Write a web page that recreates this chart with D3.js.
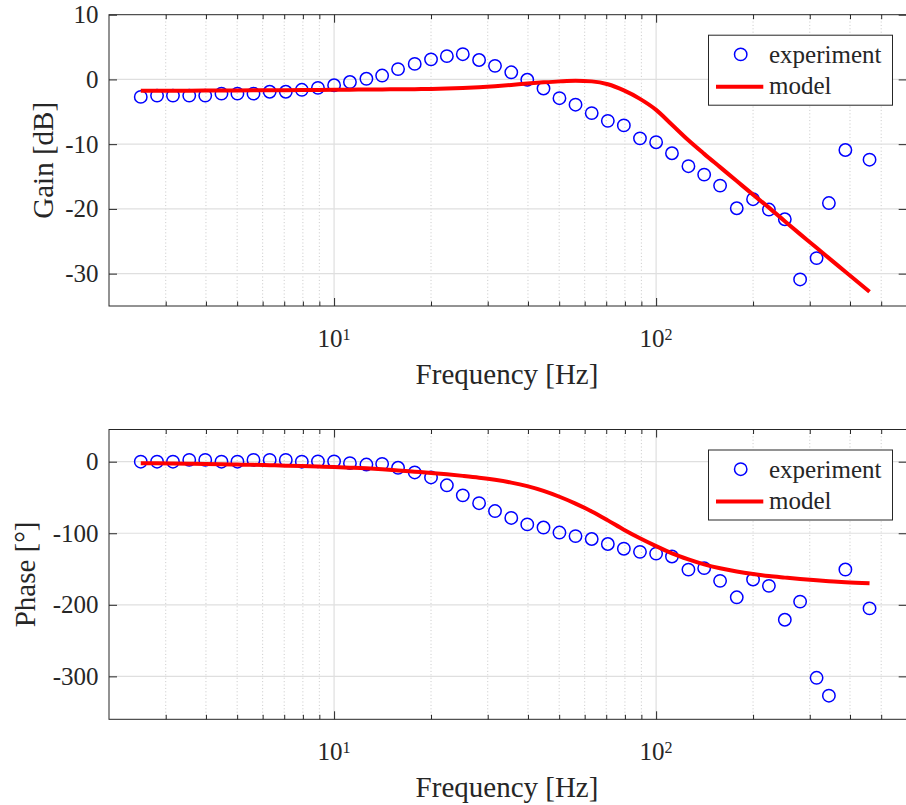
<!doctype html>
<html>
<head>
  <meta charset="utf-8">
  <title>Gain / Phase</title>
  <script src="https://d3js.org/d3.v7.min.js"></script>
  <style>
  body { margin: 0; background: #fff; }
  </style>
</head>
<body>
<div id="vis"></div>
<script>
// measured points (Hz)
var freq = [2.51, 2.82, 3.16, 3.55, 3.98, 4.47, 5.01, 5.62, 6.31, 7.08, 7.94, 8.91,
  10.0, 11.2, 12.6, 14.1, 15.8, 17.8, 20.0, 22.4, 25.1, 28.2, 31.6, 35.5, 39.8, 44.7,
  50.1, 56.2, 63.1, 70.8, 79.4, 89.1, 100, 112, 126, 141, 158, 178, 200, 224, 251,
  280, 315, 344, 387, 460];
var gain = [-2.7, -2.5, -2.5, -2.5, -2.5, -2.2, -2.2, -2.2, -1.9, -1.9, -1.6, -1.3,
  -0.9, -0.4, 0.1, 0.6, 1.6, 2.4, 3.1, 3.6, 3.9, 3.0, 2.1, 1.1, -0.05, -1.4,
  -2.9, -3.9, -5.2, -6.4, -7.1, -9.1, -9.7, -11.4, -13.4, -14.7, -16.4, -19.9, -18.5, -20.1, -21.6,
  -30.9, -27.6, -19.1, -10.9, -12.4];
var phase = [0, 0, 0, 2.5, 2.5, 0, 0, 2.5, 2.5, 2.5, 0, 0.5,
  0.5, -2, -4, -3, -8.5, -15, -22, -33, -47, -58, -69, -78.6, -87.6, -92,
  -99, -104, -108, -115, -121.6, -126, -128.4, -132.5, -150.8, -148.8, -166.5, -189.5, -164.6, -173.5, -220.9,
  -195.5, -302, -327, -150.7, -205];

// model curve at the same frequencies
var modelFreq = freq;
var modelGain = [-1.75, -1.75, -1.74, -1.73, -1.72, -1.71, -1.7, -1.69, -1.68, -1.66, -1.64, -1.62,
  -1.6, -1.58, -1.56, -1.54, -1.52, -1.5, -1.47, -1.4, -1.32, -1.2, -1.05, -0.85, -0.63, -0.45,
  -0.3, -0.2, -0.3, -0.75, -1.7, -3.0, -4.7, -7.0, -9.4, -11.5, -13.55, -15.7, -17.8, -19.8, -21.9,
  -23.9, -26.0, -27.6, -29.7, -32.8];
var modelPhase = [-2, -2.2, -2.5, -2.8, -3.1, -3.5, -4, -4.4, -4.9, -5.5, -6.1, -6.8,
  -7.5, -8.3, -9.3, -10.6, -12.3, -14.0, -15.7, -17.6, -19.8, -22.3, -25.3, -29.2, -34.2, -40.8,
  -49, -58.5, -69.5, -82, -95, -107, -118, -128, -136.5, -143.5, -149, -153.5, -157, -159.8, -162,
  -164, -165.8, -167, -168.5, -170];

var gainTicks = [-30, -20, -10, 0, 10];
var phaseTicks = [-300, -200, -100, 0];
var xMajor = [10, 100];

var width = 906, height = 805;
var left = 109, right = 906.7;
var axisColor = '#262626';
var serif = '"Liberation Serif", Tinos, "Times New Roman", Times, "DejaVu Serif", "Noto Serif", serif';

var svg = d3.select('#vis').append('svg')
  .attr('width', width)
  .attr('height', height);

var x = d3.scaleLog().domain([2, 600]).range([left, right]);
var xMinor = x.ticks().filter(function(d){
  var l = Math.log10(d);
  return Math.abs(l - Math.round(l)) > 1e-6 && d > 2 && d < 600;
});

function txt(sel, size){
  return sel.attr('font-family', serif).style('font-family', serif)
    .style('font-size', size + 'px').attr('fill', axisColor);
}

function panel(opt){
  var top = opt.top, bottom = opt.bottom;
  var y = d3.scaleLinear().domain(opt.yDomain).range([bottom, top]);
  var g = svg.append('g');

  // grid
  g.selectAll('.gminor').data(xMinor).enter().append('line')
    .attr('x1', function(d){ return x(d); }).attr('x2', function(d){ return x(d); })
    .attr('y1', top).attr('y2', bottom)
    .attr('stroke', '#c2c2c2').attr('stroke-width', 0.9)
    .attr('stroke-dasharray', '1,2.4');
  g.selectAll('.gmajor').data(xMajor).enter().append('line')
    .attr('x1', function(d){ return x(d); }).attr('x2', function(d){ return x(d); })
    .attr('y1', top).attr('y2', bottom)
    .attr('stroke', '#dfdfdf').attr('stroke-width', 1.2);
  g.selectAll('.gy').data(opt.yTicks.filter(function(d){ return y(d) > top + 1; })).enter().append('line')
    .attr('x1', left).attr('x2', right)
    .attr('y1', function(d){ return y(d); }).attr('y2', function(d){ return y(d); })
    .attr('stroke', '#dfdfdf').attr('stroke-width', 1.2);

  // experiment
  g.selectAll('.pt').data(freq).enter().append('circle')
    .attr('cx', function(d){ return x(d); })
    .attr('cy', function(d, i){ return y(opt.data[i]); })
    .attr('r', 6.2)
    .attr('fill', 'none')
    .attr('stroke', '#0000ff')
    .attr('stroke-width', 1.5);

  // model
  var line = d3.line()
    .x(function(d){ return x(d); })
    .y(function(d, i){ return y(opt.model[i]); })
    .curve(d3.curveMonotoneX);
  g.append('path').datum(modelFreq)
    .attr('d', line)
    .attr('fill', 'none')
    .attr('stroke', '#ff0000')
    .attr('stroke-width', 4);

  // axes
  function style(sel){
    sel.select('.domain').remove();
    sel.selectAll('.tick line').attr('stroke', axisColor);
  }
  g.append('g').attr('transform', 'translate(' + left + ',0)')
    .call(d3.axisLeft(y).tickValues(opt.yTicks).tickSizeInner(-8).tickSizeOuter(0).tickPadding(10.5)
      .tickFormat(function(d){ return String(d); }))
    .call(style)
    .selectAll('text').call(txt, 25);
  g.append('g').attr('transform', 'translate(' + right + ',0)')
    .call(d3.axisRight(y).tickValues(opt.yTicks).tickSize(-8).tickFormat(''))
    .call(style);
  [[d3.axisBottom, bottom], [d3.axisTop, top]].forEach(function(a){
    g.append('g').attr('transform', 'translate(0,' + a[1] + ')')
      .call(a[0](x).tickValues(xMinor).tickSize(-4.5).tickFormat(''))
      .call(style);
    g.append('g').attr('transform', 'translate(0,' + a[1] + ')')
      .call(a[0](x).tickValues(xMajor).tickSize(-8).tickFormat(''))
      .call(style);
  });

  g.append('rect')
    .attr('x', left).attr('y', top)
    .attr('width', right - left).attr('height', bottom - top)
    .attr('fill', 'none').attr('stroke', axisColor).attr('stroke-width', 1);

  // x tick labels 10^n
  var lab = g.selectAll('.xl').data(xMajor).enter().append('text')
    .attr('x', function(d){ return x(d); })
    .attr('y', bottom + 40.7)
    .attr('text-anchor', 'middle')
    .call(txt, 25);
  lab.append('tspan').text('10');
  lab.append('tspan')
    .attr('dy', -6.7)
    .style('font-size', '16px')
    .text(function(d){ return Math.round(Math.log10(d)); });

  g.append('text')
    .attr('x', 507)
    .attr('y', bottom + 77.5)
    .attr('text-anchor', 'middle')
    .call(txt, 29)
    .text('Frequency [Hz]');

  g.append('text')
    .attr('transform', 'translate(' + opt.yLabelX + ',' + ((top + bottom) / 2) + ') rotate(-90)')
    .attr('text-anchor', 'middle')
    .call(txt, 29)
    .text(opt.yLabel);

  // legend
  var lg = g.append('g').attr('transform', 'translate(0,' + top + ')');
  lg.append('rect')
    .attr('x', 708.5).attr('y', 20.5)
    .attr('width', 184).attr('height', 70)
    .attr('fill', '#fff').attr('stroke', axisColor).attr('stroke-width', 1);
  lg.append('circle')
    .attr('cx', 740.7).attr('cy', 39.7).attr('r', 6.2)
    .attr('fill', 'none').attr('stroke', '#0000ff').attr('stroke-width', 1.5);
  lg.append('line')
    .attr('x1', 716).attr('x2', 763.3).attr('y1', 72).attr('y2', 72)
    .attr('stroke', '#ff0000').attr('stroke-width', 4);
  lg.append('text').attr('x', 769).attr('y', 48).call(txt, 25).text('experiment');
  lg.append('text').attr('x', 769).attr('y', 79.5).call(txt, 25).text('model');
}

panel({ top: 14.7, bottom: 306, yDomain: [-35, 10], yTicks: gainTicks,
  data: gain, model: modelGain, yLabel: 'Gain [dB]', yLabelX: 53 });
panel({ top: 429.5, bottom: 719.3, yDomain: [-360, 45], yTicks: phaseTicks,
  data: phase, model: modelPhase, yLabel: 'Phase [°]', yLabelX: 34.5 });
</script>
</body>
</html>
